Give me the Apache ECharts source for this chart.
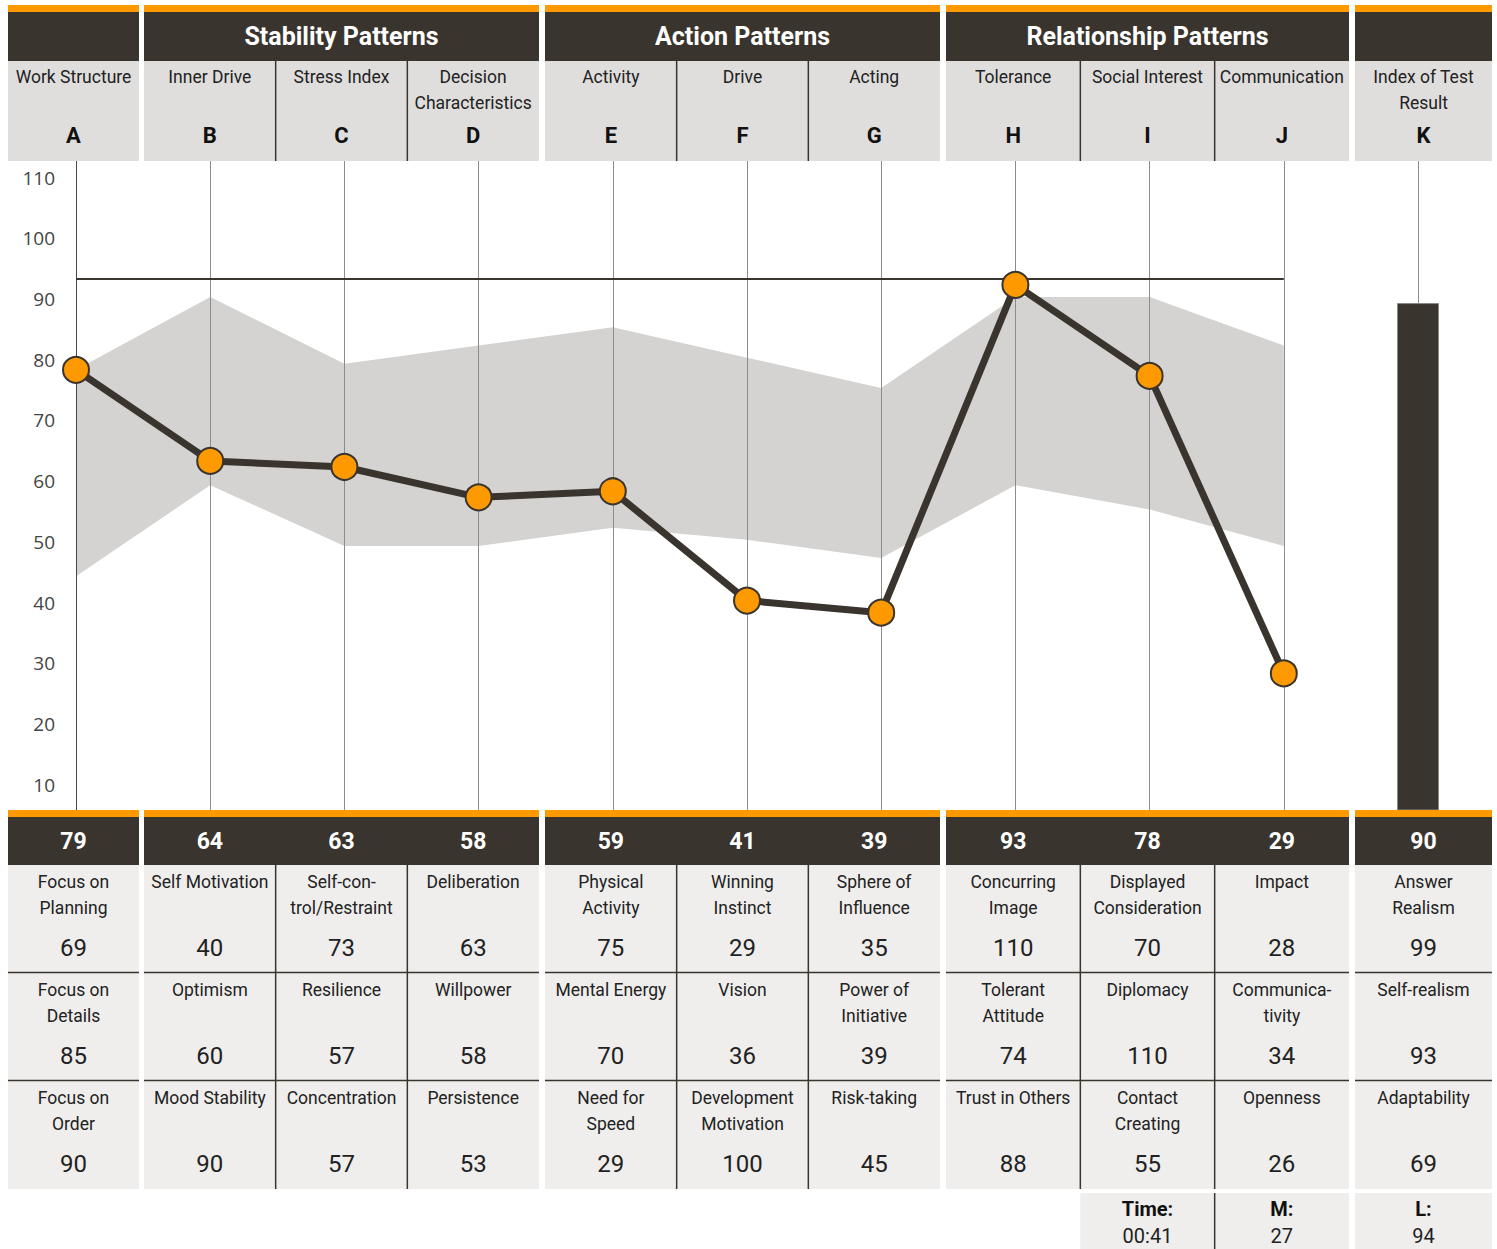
<!DOCTYPE html>
<html>
<head>
<meta charset="utf-8">
<title>Profile chart</title>
<script src="https://cdn.jsdelivr.net/npm/echarts@6/dist/echarts.min.js"></script>
<style>
  html, body { margin: 0; padding: 0; background: #fff; }
  #chart { width: 1497px; height: 1249px; }
</style>
</head>
<body>
<div id="chart"></div>
<script>
// data
const categories = ['A', 'B', 'C', 'D', 'E', 'F', 'G', 'H', 'I', 'J', 'K'];
const scaleNames = ['Work Structure', 'Inner Drive', 'Stress Index', 'Decision\nCharacteristics', 'Activity', 'Drive', 'Acting',
  'Tolerance', 'Social Interest', 'Communication', 'Index of Test\nResult'];
const groupTitles = ['', 'Stability Patterns', 'Action Patterns', 'Relationship Patterns', ''];
const groupSizes = [1, 3, 3, 3, 1];
const profileValues = [79, 64, 63, 58, 59, 41, 39, 93, 78, 29];
const indexValue = 90;
const normUpper = [79, 91, 80, 83, 86, 81, 76, 91, 91, 83];
const normLower = [45, 60, 50, 50, 53, 51, 48, 60, 56, 50];
const limitValue = 94;
const yTicks = [10, 20, 30, 40, 50, 60, 70, 80, 90, 100, 110];

const facet1Labels = ['Focus on\nPlanning', 'Self Motivation', 'Self-con-\ntrol/Restraint', 'Deliberation', 'Physical\nActivity', 'Winning\nInstinct',
  'Sphere of\nInfluence', 'Concurring\nImage', 'Displayed\nConsideration', 'Impact', 'Answer\nRealism'];
const facet1Values = [69, 40, 73, 63, 75, 29, 35, 110, 70, 28, 99];
const facet2Labels = ['Focus on\nDetails', 'Optimism', 'Resilience', 'Willpower', 'Mental Energy', 'Vision', 'Power of\nInitiative',
  'Tolerant\nAttitude', 'Diplomacy', 'Communica-\ntivity', 'Self-realism'];
const facet2Values = [85, 60, 57, 58, 70, 36, 39, 74, 110, 34, 93];
const facet3Labels = ['Focus on\nOrder', 'Mood Stability', 'Concentration', 'Persistence', 'Need for\nSpeed', 'Development\nMotivation',
  'Risk-taking', 'Trust in Others', 'Contact\nCreating', 'Openness', 'Adaptability'];
const facet3Values = [90, 90, 57, 53, 29, 100, 45, 88, 55, 26, 69];
const footerLabels = ['Time:', 'M:', 'L:'];
const footerValues = ['00:41', '27', '94'];

// layout / colours
const DARK = '#3a342e';
const ORANGE = '#ff9900';
const HEAD_GRAY = '#dfdedc';
const CELL_GRAY = '#efeeec';
const BAND = '#d4d3d1';
const FONT = 'Roboto';
const groupEdges = [[8, 139], [144, 539], [545, 940], [946, 1349], [1355, 1492]];

const cols = [];
groupEdges.forEach((g, gi) => {
  const w = (g[1] - g[0]) / groupSizes[gi];
  for (let i = 0; i < groupSizes[gi]; i++) {
    cols.push({ x0: g[0] + i * w, x1: g[0] + (i + 1) * w, first: i === 0 });
  }
});

const els = [];
function rect(x, y, w, h, fill) {
  els.push({ type: 'rect', z: 100, silent: true, shape: { x: x, y: y, width: w, height: h }, style: { fill: fill } });
}
function line(x1, y1, x2, y2) {
  els.push({ type: 'line', z: 101, silent: true, shape: { x1: x1, y1: y1, x2: x2, y2: y2 },
    style: { stroke: DARK, lineWidth: 1.5 } });
}
function text(str, x, y, font, color) {
  els.push({ type: 'text', z: 102, silent: true, x: x, y: y,
    style: { text: str, font: font, fill: color, align: 'center', verticalAlign: 'middle',
      textAlign: 'center', textVerticalAlign: 'middle' } });
}
function lines(str, x, y, font, color) {
  str.split('\n').forEach((s, i) => text(s, x, y + i * 26, font, color));
}

// header and table blocks per group
groupEdges.forEach((g, gi) => {
  const w = g[1] - g[0];
  rect(g[0], 5, w, 7, ORANGE);
  rect(g[0], 12, w, 49, DARK);
  rect(g[0], 61, w, 100, HEAD_GRAY);
  if (groupTitles[gi]) text(groupTitles[gi], (g[0] + g[1]) / 2, 36, 'bold 25px ' + FONT, '#fff');
  rect(g[0], 810, w, 7, ORANGE);
  rect(g[0], 817, w, 48, DARK);
  rect(g[0], 865, w, 324, CELL_GRAY);
  line(g[0], 972.5, g[1], 972.5);
  line(g[0], 1080.5, g[1], 1080.5);
});

const facetLabels = [facet1Labels, facet2Labels, facet3Labels];
const facetValues = [facet1Values, facet2Values, facet3Values];
cols.forEach((c, i) => {
  const cx = (c.x0 + c.x1) / 2;
  if (!c.first) {
    line(c.x0, 61, c.x0, 161);
    line(c.x0, 865, c.x0, 1189);
  }
  lines(scaleNames[i], cx, 77, '17.5px ' + FONT, '#222');
  text(categories[i], cx, 135, 'bold 22px ' + FONT, '#111');
  const score = i < profileValues.length ? profileValues[i] : indexValue;
  text(String(score), cx, 841, 'bold 23px ' + FONT, '#fff');
  for (let r = 0; r < 3; r++) {
    const top = 865 + r * 108;
    lines(facetLabels[r][i], cx, top + 17, '17.5px ' + FONT, '#222');
    text(String(facetValues[r][i]), cx, top + 83, '24px ' + FONT, '#222');
  }
});

// footer cells under I, J, K
footerLabels.forEach((lab, k) => {
  const c = cols[8 + k];
  const cx = (c.x0 + c.x1) / 2;
  rect(c.x0, 1193, c.x1 - c.x0, 60, CELL_GRAY);
  if (k === 1) line(c.x0, 1193, c.x0, 1249);
  text(lab, cx, 1209, 'bold 20px ' + FONT, '#111');
  text(footerValues[k], cx, 1236, '20px ' + FONT, '#222');
});

const chart = echarts.init(document.getElementById('chart'), null, { renderer: 'svg' });

const option = {
  animation: false,
  grid: { left: 76, right: 79, top: 161, bottom: 439 },
  xAxis: {
    type: 'category',
    data: categories,
    boundaryGap: false,
    axisLine: { show: false },
    axisTick: { show: false },
    axisLabel: { show: false },
    splitLine: { show: true, lineStyle: { color: '#8c8c8c', width: 1 } }
  },
  yAxis: {
    type: 'value',
    min: 6.5,
    max: 113.4,
    axisLine: { show: true, lineStyle: { color: '#4a4540', width: 1 } },
    axisTick: { show: false },
    splitLine: { show: false },
    axisLabel: {
      customValues: yTicks,
      margin: 21,
      color: '#444',
      fontFamily: 'Open Sans',
      fontSize: 19,
      verticalAlign: 'bottom',
      lineHeight: 8
    }
  },
  series: [
    {
      name: 'norm low',
      type: 'line',
      stack: 'norm',
      z: -1,
      data: normLower,
      symbol: 'none',
      lineStyle: { width: 0, opacity: 0 },
      silent: true
    },
    {
      name: 'norm range',
      type: 'line',
      stack: 'norm',
      z: -1,
      data: normUpper.map((u, i) => u - normLower[i]),
      symbol: 'none',
      lineStyle: { width: 0, opacity: 0 },
      areaStyle: { color: BAND, opacity: 1 },
      silent: true
    },
    {
      name: 'limit',
      type: 'line',
      data: [],
      z: 1,
      markLine: {
        silent: true,
        symbol: 'none',
        label: { show: false },
        lineStyle: { color: DARK, width: 2, type: 'solid' },
        data: [[{ coord: ['A', limitValue] }, { coord: ['J', limitValue] }]]
      }
    },
    {
      name: 'profile',
      type: 'line',
      z: 5,
      data: profileValues,
      symbol: 'circle',
      symbolSize: 26,
      lineStyle: { color: DARK, width: 7 },
      itemStyle: { color: ORANGE, borderColor: DARK, borderWidth: 2 }
    },
    {
      name: 'index',
      type: 'bar',
      z: 3,
      barWidth: 42,
      data: categories.map((c, i) => (i === categories.length - 1 ? indexValue : '-')),
      itemStyle: { color: DARK, borderColor: '#8a8784', borderWidth: 1 }
    }
  ],
  graphic: { elements: els }
};

chart.setOption(option);
</script>
</body>
</html>
